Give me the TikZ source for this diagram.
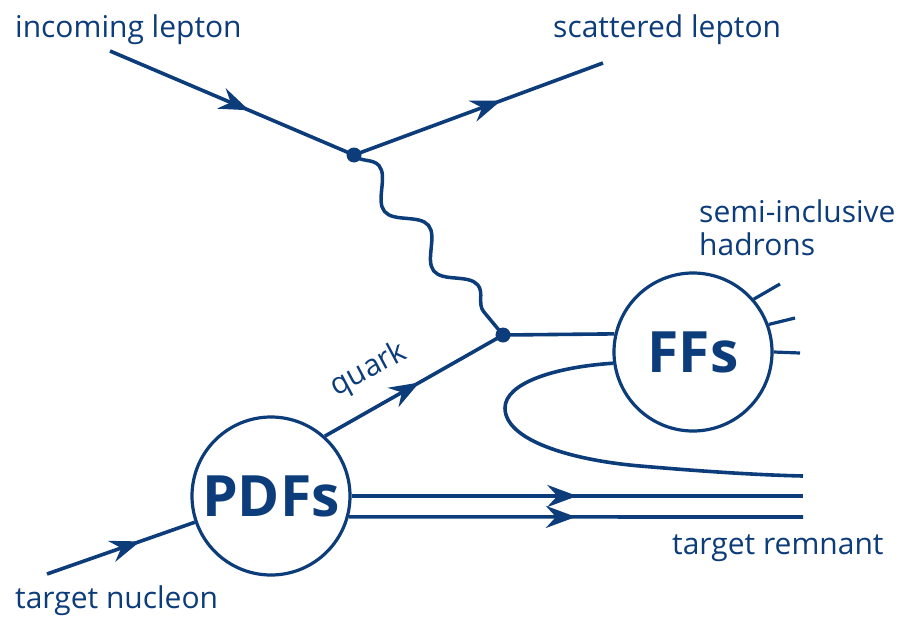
\documentclass[tikz,border=0pt]{standalone}
\usepackage{fontspec}
\setmainfont{Open Sans}
\usetikzlibrary{arrows.meta,decorations.markings,decorations.pathmorphing}
\definecolor{navy}{RGB}{12,60,122}
\begin{document}
\begin{tikzpicture}[x=1pt,y=-1pt,
  fline/.style={line width=3.6pt, draw=navy},
  arr/.style={postaction={decorate}, decoration={markings, mark=at position #1 with {\arrow{Stealth[length=30pt,width=22pt,inset=10pt]}}}},
  blob/.style={circle, draw=navy, line width=3.2pt, inner sep=0pt, minimum size=158pt, text=navy, font=\fontsize{57}{64}\selectfont\bfseries},
  vdot/.style={circle, fill=navy, inner sep=0pt, minimum size=15pt},
  lbl/.style={text=navy, inner sep=0pt, font=\fontsize{30}{36}\selectfont},
  photon/.style={line width=3.5pt, draw=navy, decorate, decoration={snake, segment length=77.45pt, amplitude=12.5pt}},
  hadron/.style={line width=3.2pt, draw=navy}
]
\useasboundingbox (0,0) rectangle (902,616);

% blobs and vertices
\node[blob] (pdfs) at (271,496) {PDFs};
\node[blob] (ffs) at (693,352) {FFs};
\node[vdot] (v1) at (354,155) {};
\node[vdot] (v2) at (503,335) {};

% free ends
\coordinate (inl) at (110,51);
\coordinate (scl) at (603,63);
\coordinate (nuc) at (47,574);
\coordinate (rem1) at (803,496);
\coordinate (rem2) at (803,517);
\coordinate (loopend) at (803,476);
\coordinate (h1) at (780,284);
\coordinate (h2) at (795,318);
\coordinate (h3) at (800,353);

% leptons
\draw[fline, arr=0.57] (inl) -- (v1.center);
\draw[fline, arr=0.59] (v1.center) -- (scl);
% photon
\draw[photon] (v1.center) -- (v2.center);
% quark
\draw[fline, arr=0.53] (pdfs.48.5) -- (v2.center);
\draw[fline] (v2.center) -- (ffs.167.6);
% nucleon
\draw[fline, arr=0.63] (nuc) -- (pdfs.199.6);
% remnant
\draw[fline, arr=0.5] (pdfs.east) -- (rem1);
\draw[fline, arr=0.5] (pdfs.-15.4) -- (rem2);
\draw[fline] (ffs.188) .. controls (555,367) and (505,383) .. (505,408)
  .. controls (505,440) and (570,460) .. (640,466)
  .. controls (710,472) and (760,475) .. (loopend);
% hadrons
\draw[hadron] (ffs.41.5) -- (h1);
\draw[hadron] (ffs.20.5) -- (h2);
\draw[hadron] (ffs.0) -- (h3);

% labels
\node[lbl, anchor=base west] (tinl) at (15,37) {incoming lepton};
\node[lbl, anchor=base west] (tscl) at (553,37) {scattered lepton};
\node[lbl, anchor=base west] (tsemi) at (699,222) {semi-inclusive};
\node[lbl, anchor=base west] (thad) at (699,255) {hadrons};
\node[lbl, anchor=base west] (trem) at (672,554) {target remnant};
\node[lbl, anchor=base west] (tnuc) at (15,608) {target nucleon};
\node[lbl, rotate=28] (tq) at (369,370) {quark};
\end{tikzpicture}
\end{document}
